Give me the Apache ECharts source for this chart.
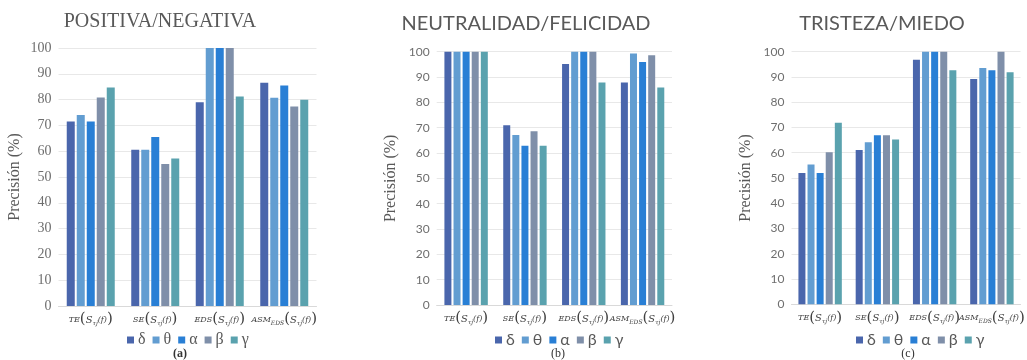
<!DOCTYPE html>
<html>
<head>
<meta charset="utf-8">
<script src="https://cdn.jsdelivr.net/npm/echarts@6/dist/echarts.min.js"></script>
<style>
  html, body { margin: 0; padding: 0; background: #fff; }
  #chart { width: 1027px; height: 360px; }
</style>
</head>
<body>
<div id="chart"></div>
<script>
// Feature sets on the x axis and EEG bands in each group
const categories = ['TE', 'SE', 'EDS', 'ASM'];
const bands = ['δ', 'θ', 'α', 'β', 'γ'];
const yTicks = [0, 10, 20, 30, 40, 50, 60, 70, 80, 90, 100];

// Precision (%) per band (rows: δ, θ, α, β, γ; columns follow categories)
const posNegValues = [
  [71.5, 60.6, 79.0, 86.5],
  [74.0, 60.6, 100, 80.7],
  [71.5, 65.5, 100, 85.5],
  [80.8, 55.0, 100, 77.3],
  [84.7, 57.2, 81.2, 79.9]
];
const neuFelValues = [
  [100, 71.0, 95.1, 87.8],
  [100, 67.1, 100, 99.3],
  [100, 62.9, 100, 95.9],
  [100, 68.6, 100, 98.6],
  [100, 62.9, 87.8, 85.9]
];
const triMieValues = [
  [52.0, 61.1, 96.8, 89.2],
  [55.3, 64.2, 100, 93.5],
  [52.0, 66.9, 100, 92.7],
  [60.2, 66.9, 100, 100],
  [71.9, 65.2, 92.7, 91.9]
];

const bandColors = ['#4A66AC', '#629DD1', '#297FD5', '#7F8FA9', '#5AA2AE'];
const SERIF = '"Liberation Serif", "DejaVu Serif", serif';
const SANS = 'Lato, "Open Sans", sans-serif';
const MATH = '"DejaVu Serif", "Liberation Serif", serif';

const panels = [
  { title: 'POSITIVA/NEGATIVA', caption: '(a)', values: posNegValues,
    grid: { left: 58.5, top: 48, width: 258, height: 258 },
    titlePos: [160, 22], captionPos: [180, 354], legendLeft: 122,
    barWidth: 8, barGap: '25%', tickFont: SERIF, tickSize: 14, legendFont: SERIF,
    titleFont: SERIF, nameGap: 36, captionBold: true },
  { title: 'NEUTRALIDAD/FELICIDAD', caption: '(b)', values: neuFelValues,
    grid: { left: 436.7, top: 51.7, width: 235.3, height: 253.3 },
    titlePos: [526, 24], captionPos: [558, 354], legendLeft: 490,
    barWidth: 7, barGap: '30%', tickFont: SANS, tickSize: 12, legendFont: SANS,
    titleFont: SANS, nameGap: 38, captionBold: false },
  { title: 'TRISTEZA/MIEDO', caption: '(c)', values: triMieValues,
    grid: { left: 791.5, top: 51.7, width: 235, height: 252.6 },
    titlePos: [882, 24], captionPos: [908, 354], legendLeft: 851,
    barWidth: 7, barGap: '30%', tickFont: SANS, tickSize: 12, legendFont: SANS,
    titleFont: SANS, nameGap: 38, captionBold: false }
];

// Math-style axis labels, e.g. TE(S_τj(f))
function categoryLabel(name) {
  const arg = '{p|(}{S|S}{s|τj}{f|(f)}{p|)}';
  if (name === 'ASM') return '{i|ASM}{s|EDS}' + arg;
  return '{i|' + name + '}' + arg;
}
const labelRich = {
  i: { fontFamily: MATH, fontStyle: 'italic', fontSize: 8, color: '#404040', verticalAlign: 'bottom', lineHeight: 16, padding: [0, 0, 3, 0] },
  p: { fontFamily: MATH, fontSize: 15, color: '#404040', verticalAlign: 'bottom', lineHeight: 16 },
  S: { fontFamily: MATH, fontStyle: 'italic', fontSize: 10, color: '#404040', verticalAlign: 'bottom', lineHeight: 16, padding: [0, 0, 2, 0] },
  s: { fontFamily: MATH, fontStyle: 'italic', fontSize: 6, color: '#404040', verticalAlign: 'bottom', lineHeight: 16, padding: [0, 0, 1, 0] },
  f: { fontFamily: MATH, fontStyle: 'italic', fontSize: 8, color: '#404040', verticalAlign: 'bottom', lineHeight: 16, padding: [0, 0, 3, 0] }
};

const option = {
  animation: false,
  grid: [], xAxis: [], yAxis: [], series: [], legend: [], graphic: []
};

panels.forEach((p, k) => {
  option.grid.push(Object.assign({ containLabel: false }, p.grid));
  option.xAxis.push({
    type: 'category', gridIndex: k, data: categories,
    axisLine: { lineStyle: { color: '#d9d9d9' } },
    axisTick: { show: false },
    axisLabel: { margin: 5, interval: 0, formatter: categoryLabel, rich: labelRich }
  });
  option.yAxis.push({
    type: 'value', gridIndex: k, min: yTicks[0], max: yTicks[yTicks.length - 1], interval: 10,
    name: 'Precisión (%)', nameLocation: 'middle', nameRotate: 90, nameGap: p.nameGap,
    nameTextStyle: { fontFamily: SERIF, fontSize: 16, color: '#595959' },
    axisLine: { show: false }, axisTick: { show: false },
    axisLabel: { fontFamily: p.tickFont, fontSize: p.tickSize, color: '#6e6e6e', margin: 7 },
    splitLine: { lineStyle: { color: '#e8e8e8' } }
  });
  bands.forEach((b, j) => {
    option.series.push({
      type: 'bar', name: b, xAxisIndex: k, yAxisIndex: k,
      data: p.values[j], barWidth: p.barWidth, barGap: p.barGap,
      itemStyle: { color: bandColors[j] }
    });
  });
  option.legend.push({
    data: bands, left: p.legendLeft, top: 327, orient: 'horizontal',
    icon: 'rect', itemWidth: 7, itemHeight: 7, itemGap: 7,
    textStyle: { fontFamily: p.legendFont, fontSize: 16, color: '#595959', padding: [0, 0, 0, -1] },
    selectedMode: false
  });
  option.graphic.push({
    type: 'text', x: p.titlePos[0], y: p.titlePos[1],
    style: { text: p.title, fill: '#595959', font: '20px ' + p.titleFont, align: 'center', verticalAlign: 'middle' }
  });
  option.graphic.push({
    type: 'text', x: p.captionPos[0], y: p.captionPos[1],
    style: { text: p.caption, fill: '#333', font: (p.captionBold ? 'bold ' : '') + '12px ' + SERIF, align: 'center', verticalAlign: 'middle' }
  });
});

const chart = echarts.init(document.getElementById('chart'), null, { renderer: 'canvas' });
chart.setOption(option);
</script>
</body>
</html>
